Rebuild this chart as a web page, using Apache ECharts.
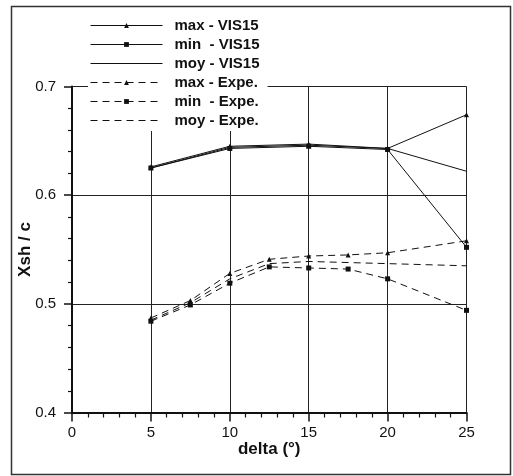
<!DOCTYPE html>
<html>
<head>
<meta charset="utf-8">
<script src="https://cdn.jsdelivr.net/npm/echarts@6/dist/echarts.min.js"></script>
<style>
html,body{margin:0;padding:0;background:#fff;}
#c{width:513px;height:476px;}
</style>
</head>
<body>
<div id="c"></div>
<script>
// ---- data ----
const visX   = [5, 10, 15, 20, 25];
const visMax = [0.626, 0.645, 0.647, 0.643, 0.674];
const visMin = [0.625, 0.643, 0.645, 0.642, 0.552];
const visMoy = [0.625, 0.644, 0.646, 0.643, 0.622];

const expX   = [5, 7.5, 10, 12.5, 15, 17.5, 20, 25];
const expMax = [0.487, 0.503, 0.528, 0.541, 0.544, 0.545, 0.547, 0.558];
const expMin = [0.484, 0.499, 0.519, 0.534, 0.533, 0.532, 0.523, 0.494];
const expMoy = [0.485, 0.501, 0.523, 0.537, 0.539, 0.538, 0.537, 0.535];

const seriesNames = ['max - VIS15', 'min  - VIS15', 'moy - VIS15', 'max - Expe.', 'min  - Expe.', 'moy - Expe.'];
const xTicks = [0, 5, 10, 15, 20, 25];
const yTicks = [0.4, 0.5, 0.6, 0.7];

const zip = (xs, ys) => xs.map((x, i) => [x, ys[i]]);

const FONT = '"Liberation Sans", Arial, Helvetica, sans-serif';

function mk(name, xs, ys, dashed, symbol, size) {
  return {
    name: name,
    type: 'line',
    data: zip(xs, ys),
    symbol: symbol || 'circle',
    symbolSize: symbol ? size : 0,
    showSymbol: true,
    itemStyle: { color: symbol ? '#111' : 'rgba(0,0,0,0)', borderWidth: 0 },
    lineStyle: { color: '#111', width: 1, type: dashed ? [7, 5] : 'solid' },
    emphasis: { disabled: true },
    animation: false,
    z: 3
  };
}

const chart = echarts.init(document.getElementById('c'), null, { renderer: 'canvas' });
chart.setOption({
  animation: false,
  backgroundColor: '#fff',
  grid: { left: 72, right: 46.5, top: 86.5, bottom: 63.5, containLabel: false },
  legend: {
    orient: 'vertical',
    left: 88,
    top: 8,
    padding: [10, 8, 3, 2],
    itemWidth: 72,
    itemHeight: 6,
    itemGap: 4,
    backgroundColor: '#fff',
    data: seriesNames,
    selectedMode: false,
    lineStyle: { width: 1 },
    textStyle: { fontFamily: FONT, fontSize: 15, fontWeight: 'bold', color: '#111', padding: [0, 0, 0, 7], lineHeight: 15 },
    z: 10
  },
  xAxis: {
    type: 'value',
    min: 0, max: 25, interval: 5,
    name: 'delta (°)',
    nameLocation: 'middle',
    nameGap: 28,
    nameMoveOverlap: false,
    nameTextStyle: { fontFamily: FONT, fontSize: 17, fontWeight: 'bold', color: '#111' },
    axisLine: { show: true, onZero: false, lineStyle: { color: '#111', width: 2 } },
    axisTick: { show: true, inside: false, length: 9, lineStyle: { color: '#111', width: 1.5 } },
    minorTick: { show: true, splitNumber: 5, length: 5, lineStyle: { color: '#111', width: 1.2 } },
    axisLabel: { fontFamily: FONT, fontSize: 15, color: '#111', margin: 13,
      formatter: v => xTicks.includes(v) ? String(v) : '' },
    splitLine: { show: true, lineStyle: { color: '#222', width: 1 } }
  },
  yAxis: {
    type: 'value',
    min: 0.4, max: 0.7, interval: 0.1,
    name: 'Xsh / c',
    nameLocation: 'middle',
    nameGap: 38,
    nameMoveOverlap: false,
    nameTextStyle: { fontFamily: FONT, fontSize: 17, fontWeight: 'bold', color: '#111' },
    axisLine: { show: true, onZero: false, lineStyle: { color: '#111', width: 2 } },
    axisTick: { show: true, inside: false, length: 8, lineStyle: { color: '#111', width: 1.5 } },
    minorTick: { show: true, splitNumber: 5, length: 4, lineStyle: { color: '#111', width: 1.2 } },
    axisLabel: { fontFamily: FONT, fontSize: 15, color: '#111', margin: 16,
      formatter: v => { const t = yTicks.find(k => Math.abs(k - v) < 1e-9); return t !== undefined ? t.toFixed(1) : ''; } },
    splitLine: { show: true, lineStyle: { color: '#222', width: 1 } }
  },
  graphic: [{
    type: 'rect',
    shape: { x: 11.5, y: 6.5, width: 499, height: 468 },
    style: { fill: 'none', stroke: '#333', lineWidth: 1.5 },
    silent: true,
    z: 20
  }],
  series: [
    mk(seriesNames[0], visX, visMax, false, 'triangle', 5),
    mk(seriesNames[1], visX, visMin, false, 'rect', 5),
    mk(seriesNames[2], visX, visMoy, false, null, 0),
    mk(seriesNames[3], expX, expMax, true, 'triangle', 5),
    mk(seriesNames[4], expX, expMin, true, 'rect', 5),
    mk(seriesNames[5], expX, expMoy, true, null, 0)
  ]
});
</script>
</body>
</html>
